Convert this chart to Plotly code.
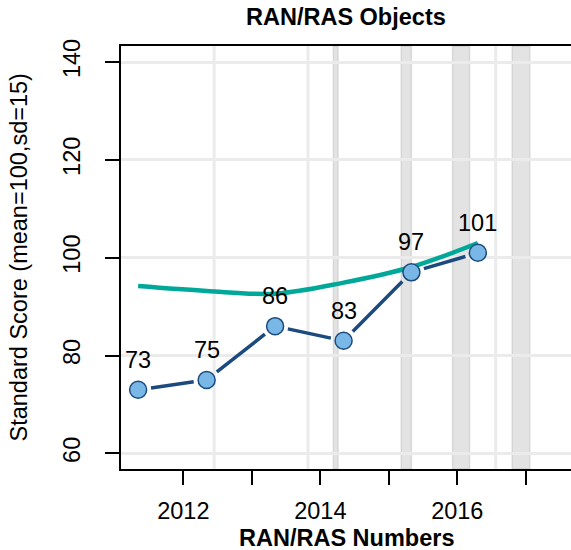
import math
import plotly.graph_objects as go

# ---- data ----
years = [2011.34, 2012.34, 2013.34, 2014.34, 2015.33, 2016.30]
scores = [73, 75, 86, 83, 97, 101]
trend = [94.2, 93.2, 92.65, 94.9, 98.1, 103.0]
ref_lines = [2012.45, 2013.82, 2016.56]
band_starts = [2014.19, 2015.18, 2015.93, 2016.80]
band_ends = [2014.26, 2015.33, 2016.18, 2017.06]
x_ticks = [2012, 2013, 2014, 2015, 2016, 2017]
x_tick_text = ["2012", "", "2014", "", "2016", ""]
y_ticks = [60, 80, 100, 120, 140]

# ---- layout geometry ----
W, H = 571, 550
ML, MR, MT, MB = 121, 0, 46, 81
XR = [2011.09, 2017.66]
YR = [56.8, 143.27]
FONT = "Liberation Sans, Arial, sans-serif"
FS = 23.5

pw = W - ML - MR
ph = H - MT - MB
sx = pw / (XR[1] - XR[0])
sy = ph / (YR[1] - YR[0])

# broken line segments (gap around each point, like R type="b")
gap = 13
seg_x, seg_y = [], []
for i in range(len(years) - 1):
    x0, y0, x1, y1 = years[i], scores[i], years[i + 1], scores[i + 1]
    dxp, dyp = (x1 - x0) * sx, (y1 - y0) * sy
    L = math.hypot(dxp, dyp)
    ux, uy = dxp / L, dyp / L
    seg_x += [x0 + gap * ux / sx, x1 - gap * ux / sx, None]
    seg_y += [y0 + gap * uy / sy, y1 - gap * uy / sy, None]

fig = go.Figure()

fig.add_trace(go.Scatter(
    x=years, y=trend, mode="lines",
    line=dict(color="#00A89A", width=4.5, shape="spline", smoothing=1.0),
    hoverinfo="skip", showlegend=False))

fig.add_trace(go.Scatter(
    x=seg_x, y=seg_y, mode="lines",
    line=dict(color="#1B4A7E", width=3.5),
    hoverinfo="skip", showlegend=False))

fig.add_trace(go.Scatter(
    x=years, y=scores, mode="markers",
    marker=dict(size=17, color="#79B7E6", line=dict(color="#1B4A7E", width=1.5)),
    showlegend=False))

shapes = []
for xv in ref_lines:
    shapes.append(dict(type="line", xref="x", yref="paper", x0=xv, x1=xv, y0=0, y1=1,
                       line=dict(color="#EBEBEB", width=3), layer="below"))
for a, b in zip(band_starts, band_ends):
    shapes.append(dict(type="rect", xref="x", yref="paper", x0=a, x1=b, y0=0, y1=1,
                       fillcolor="rgba(150,150,150,0.27)",
                       line=dict(color="rgba(150,150,150,0.25)", width=1.5), layer="below"))

annotations = []
for xv, yv in zip(years, scores):
    annotations.append(dict(x=xv, y=yv, xref="x", yref="y", text=str(yv), showarrow=False,
                            yshift=30, font=dict(family=FONT, size=FS, color="black")))

annotations.append(dict(x=0.5, y=1 + (MT - 17) / ph, xref="paper", yref="paper",
                        text="RAN/RAS Objects", showarrow=False, yanchor="middle",
                        font=dict(family=FONT, size=FS, color="black", weight="bold")))
annotations.append(dict(x=0.5, y=-(538 - (H - MB)) / ph, xref="paper", yref="paper",
                        text="RAN/RAS Numbers", showarrow=False, yanchor="middle",
                        font=dict(family=FONT, size=FS, color="black", weight="bold")))
annotations.append(dict(x=(18 - ML) / pw, y=0.5, xref="paper", yref="paper",
                        text="Standard Score (mean=100,sd=15)", showarrow=False,
                        textangle=-90, xanchor="center", yanchor="middle",
                        font=dict(family=FONT, size=FS, color="black")))

fig.update_layout(
    width=W, height=H,
    margin=dict(l=ML, r=MR, t=MT, b=MB, pad=0, autoexpand=False),
    paper_bgcolor="white", plot_bgcolor="white",
    shapes=shapes, annotations=annotations,
    font=dict(family=FONT, size=FS, color="black"),
    xaxis=dict(range=XR, tickvals=x_ticks, ticktext=x_tick_text, automargin=False,
               showgrid=False, zeroline=False,
               showline=True, linecolor="black", linewidth=1.5, mirror=True,
               ticks="outside", ticklen=14, tickwidth=1.5, tickcolor="black",
               ticklabelstandoff=6,
               tickfont=dict(family=FONT, size=FS, color="black")),
    yaxis=dict(range=YR, tickvals=y_ticks, ticktext=[str(v) for v in y_ticks], automargin=False,
               showgrid=True, gridcolor="#EBEBEB", gridwidth=3, zeroline=False,
               showline=True, linecolor="black", linewidth=1.5,
               ticks="outside", ticklen=14, tickwidth=1.5, tickcolor="black",
               tickangle=-90, ticklabelstandoff=16,
               tickfont=dict(family=FONT, size=FS, color="black")),
)

fig.write_html("out.html",
               config={"displayModeBar": False},
               post_script="document.body.style.margin='0';document.body.style.padding='0';")
